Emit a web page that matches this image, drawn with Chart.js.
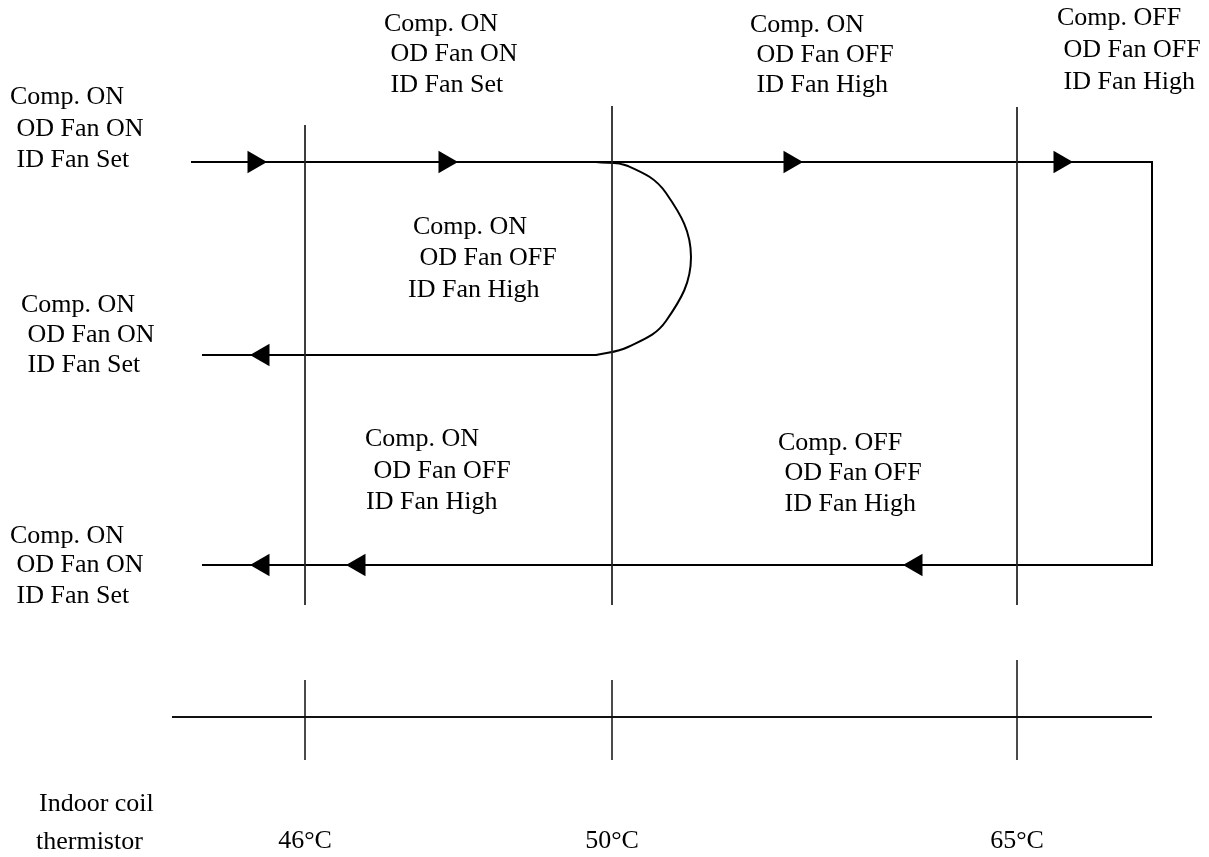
<!DOCTYPE html>
<html>
<head>
<meta charset="utf-8">
<script src="https://cdn.jsdelivr.net/npm/chart.js@4"></script>
<style>
  body { margin: 0; background: #fff; }
  #wrap { width: 1209px; height: 857px; }
</style>
</head>
<body>
<div id="wrap"><canvas id="coilChart" width="1209" height="857"></canvas></div>
<script>
// Indoor coil thermistor thresholds (diagram units on the x axis)
const temps = ["46°C", "50°C", "65°C"];
const tempX = [305, 612, 1017];
const guideTop = [125, 106, 107];
const guideBottom = 605;
const tickTop = [680, 680, 660];
const tickBottom = 760;
const axisY = 717;
const axisStart = 172;
const axisEnd = 1152;

// flow paths
const risePath = [[191, 162], [1152, 162], [1152, 565], [202, 565]];
const fallPath = [[597, 355], [202, 355]];
const hookCurve = [[596, 162], [628, 166], [666, 193], [691, 257], [666, 321], [628, 347], [596, 355]];

// arrow heads
const rightArrowX = [254, 445, 790, 1060];
const rightArrowY = 162;
const leftArrows = [[263, 355], [263, 565], [359, 565], [916, 565]];

// state labels: text, x, baseline
const stateLines = [
  ["Comp. ON", 10, 104], [" OD Fan ON", 10, 136], [" ID Fan Set", 10, 167],
  ["Comp. ON", 384, 31], [" OD Fan ON", 384, 61], [" ID Fan Set", 384, 92],
  ["Comp. ON", 750, 32], [" OD Fan OFF", 750, 62], [" ID Fan High", 750, 92],
  ["Comp. OFF", 1057, 25], [" OD Fan OFF", 1057, 57], [" ID Fan High", 1057, 89],
  ["Comp. ON", 413, 234], [" OD Fan OFF", 413, 265], ["ID Fan High", 408, 297],
  ["Comp. ON", 21, 312], [" OD Fan ON", 21, 342], [" ID Fan Set", 21, 372],
  ["Comp. ON", 365, 446], [" OD Fan OFF", 367, 478], ["ID Fan High", 366, 509],
  ["Comp. OFF", 778, 450], [" OD Fan OFF", 778, 480], [" ID Fan High", 778, 511],
  ["Comp. ON", 10, 543], [" OD Fan ON", 10, 572], [" ID Fan Set", 10, 603],
];
const axisTitle = [["Indoor coil", 39, 811], ["thermistor", 36, 849]];
const tempLabelY = 848;

const pts = (arr) => arr.map((p) => ({ x: p[0], y: p[1] }));

const datasets = [];

// vertical guide lines at each threshold
tempX.forEach((x, i) => {
  datasets.push({
    data: [{ x: x, y: guideTop[i] }, { x: x, y: guideBottom }],
    borderColor: "#222",
    borderWidth: 1,
  });
  datasets.push({
    data: [{ x: x, y: tickTop[i] }, { x: x, y: tickBottom }],
    borderColor: "#111",
    borderWidth: 1.5,
  });
});

// thermistor axis
datasets.push({
  data: [{ x: axisStart, y: axisY }, { x: axisEnd, y: axisY }],
  borderColor: "#111",
  borderWidth: 2,
});

datasets.push({ data: pts(risePath), borderColor: "#000", borderWidth: 2 });
datasets.push({ data: pts(fallPath), borderColor: "#000", borderWidth: 2 });
datasets.push({ data: pts(hookCurve), borderColor: "#000", borderWidth: 2, tension: 0.4 });

// arrows
datasets.push({
  data: rightArrowX.map((x) => ({ x: x, y: rightArrowY })),
  showLine: false,
  pointStyle: "triangle",
  rotation: 90,
  pointRadius: 13,
  backgroundColor: "#000",
  borderColor: "#000",
  borderWidth: 0,
});
datasets.push({
  data: pts(leftArrows),
  showLine: false,
  pointStyle: "triangle",
  rotation: -90,
  pointRadius: 13,
  backgroundColor: "#000",
  borderColor: "#000",
  borderWidth: 0,
});

// text drawn on top through the chart scales
const textPlugin = {
  id: "stateText",
  afterDatasetsDraw(chart) {
    const { ctx, scales } = chart;
    ctx.save();
    ctx.fillStyle = "#000";
    ctx.font = "26px 'Liberation Serif', 'Times New Roman', serif";
    ctx.textBaseline = "alphabetic";
    ctx.textAlign = "left";
    stateLines.concat(axisTitle).forEach((t) => {
      ctx.fillText(t[0], scales.x.getPixelForValue(t[1]), scales.y.getPixelForValue(t[2]));
    });
    ctx.textAlign = "center";
    temps.forEach((label, i) => {
      ctx.fillText(label, scales.x.getPixelForValue(tempX[i]), scales.y.getPixelForValue(tempLabelY));
    });
    ctx.restore();
  },
};

new Chart(document.getElementById("coilChart"), {
  type: "line",
  data: { datasets: datasets },
  options: {
    responsive: false,
    animation: false,
    events: [],
    layout: { padding: 0, autoPadding: false },
    datasets: { line: { pointRadius: 0, fill: false, clip: false, spanGaps: true } },
    plugins: { legend: { display: false }, tooltip: { enabled: false } },
    scales: {
      x: { type: "linear", min: 0, max: 1209, display: false },
      y: { type: "linear", min: 0, max: 857, reverse: true, display: false },
    },
  },
  plugins: [textPlugin],
});
</script>
</body>
</html>
